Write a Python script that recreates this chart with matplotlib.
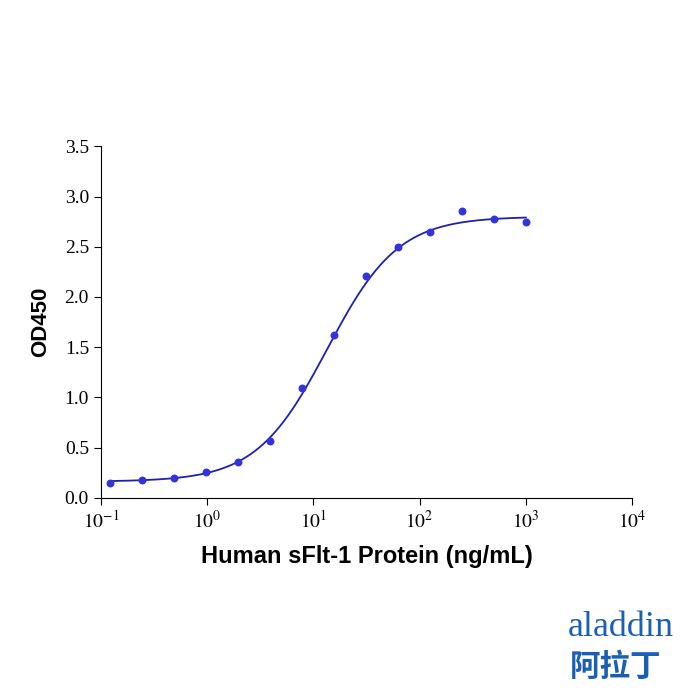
import numpy as np
import matplotlib
matplotlib.use("Agg")
import matplotlib.pyplot as plt
from matplotlib.ticker import FixedLocator, FixedFormatter, NullLocator

plt.rcParams["mathtext.fontset"] = "stix"

conc = [0.122, 0.244, 0.488, 0.977, 1.95, 3.91, 7.81, 15.6, 31.25, 62.5, 125, 250, 500, 1000]
od450 = [0.15, 0.18, 0.20, 0.26, 0.36, 0.56, 1.09, 1.62, 2.21, 2.50, 2.65, 2.86, 2.78, 2.75]
# 4PL fit parameters
bottom, top, ec50, hill = 0.16, 2.80, 13.5, 1.3
xticks = [0.1, 1, 10, 100, 1000, 10000]
xtick_labels = [r"$10^{-1}$", r"$10^{0}$", r"$10^{1}$", r"$10^{2}$", r"$10^{3}$", r"$10^{4}$"]
yticks = [0.0, 0.5, 1.0, 1.5, 2.0, 2.5, 3.0, 3.5]

fig = plt.figure(figsize=(7, 7), dpi=100)
ax = fig.add_axes([0.144, 0.289, 0.759, 0.502])
xs = np.logspace(np.log10(conc[0]), np.log10(conc[-1]), 300)
ys = bottom + (top - bottom) / (1 + (ec50 / xs) ** hill)
ax.plot(xs, ys, color="#2020b0", lw=1.3)
ax.scatter(conc, od450, s=22, color="#3333dd", zorder=3)
ax.set_xscale("log")
ax.set_xlim(0.1, 10000)
ax.set_ylim(0, 3.5)
ax.xaxis.set_major_locator(FixedLocator(xticks))
ax.xaxis.set_major_formatter(FixedFormatter(xtick_labels))
ax.xaxis.set_minor_locator(NullLocator())
ax.set_yticks(yticks)
ax.set_yticklabels([f"{v:.1f}" for v in yticks])
for s in ["top", "right"]:
    ax.spines[s].set_visible(False)
ax.tick_params(labelsize=14, direction="out", length=5)
for lab in ax.get_yticklabels():
    lab.set_fontfamily("Liberation Serif")
ax.set_xlabel("Human sFlt-1 Protein (ng/mL)", fontsize=17, fontweight="bold",
              fontfamily="Liberation Sans", labelpad=10)
ax.set_ylabel("OD450", fontsize=16, fontweight="bold", fontfamily="Liberation Sans", labelpad=10)

fig.text(0.962, 0.08, "aladdin", color="#1a5fb4", fontsize=26, fontfamily="Liberation Serif",
         ha="right", va="bottom")
fig.text(0.945, 0.025, "阿拉丁", color="#1a5fb4", fontsize=22, fontfamily="Noto Sans CJK SC",
         ha="right", va="bottom", fontweight="bold")
fig.savefig("out.png", dpi=100)
